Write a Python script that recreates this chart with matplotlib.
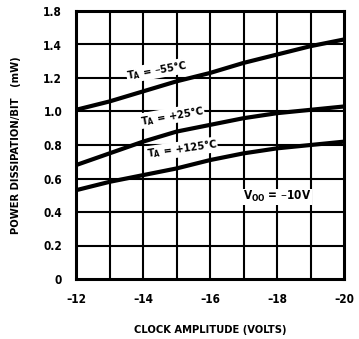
import matplotlib.pyplot as plt

# clock amplitude (volts) and power dissipation per bit (mW)
clock = [-12, -13, -14, -15, -16, -17, -18, -19, -20]
p_m55 = [1.01, 1.06, 1.12, 1.18, 1.23, 1.29, 1.34, 1.39, 1.43]
p_p25 = [0.68, 0.75, 0.82, 0.88, 0.92, 0.96, 0.99, 1.01, 1.03]
p_p125 = [0.53, 0.58, 0.62, 0.66, 0.71, 0.75, 0.78, 0.80, 0.82]

xticks = [-12, -14, -16, -18, -20]
xtick_labels = ['\u201312', '\u201314', '\u201316', '\u201318', '\u201320']
yticks = [0, 0.2, 0.4, 0.6, 0.8, 1.0, 1.2, 1.4, 1.6]
ytick_labels = ['0', '0.2', '0.4', '0.6', '0.8', '1.0', '1.2', '1.4', '1.8']

font = dict(family='DejaVu Sans', fontweight='bold', fontstretch='condensed')

fig = plt.figure(figsize=(3.59, 3.39), dpi=100)
ax = fig.add_axes([76/359, 60/339, 268/359, 268/339])

ax.set_xlim(-12, -20)
ax.set_ylim(0, 1.6)

# grid every volt and every 0.2 mW
for x in range(-13, -20, -1):
    ax.axvline(x, color='black', lw=1.5, zorder=1)
for y in yticks[1:-1]:
    ax.axhline(y, color='black', lw=1.5, zorder=1)

for s in ax.spines.values():
    s.set_linewidth(2.2)

ax.plot(clock, p_m55, color='black', lw=3.0, solid_capstyle='butt', zorder=3)
ax.plot(clock, p_p25, color='black', lw=3.0, solid_capstyle='butt', zorder=3)
ax.plot(clock, p_p125, color='black', lw=3.0, solid_capstyle='butt', zorder=3)

ax.set_xticks(xticks)
ax.set_xticklabels(xtick_labels, fontsize=8.5, **font)
ax.set_yticks(yticks)
ax.set_yticklabels(ytick_labels, fontsize=8.5, **font)
ax.tick_params(length=0, pad=10)

ax.set_xlabel('CLOCK AMPLITUDE (VOLTS)', fontsize=8, labelpad=14, **font)
ax.set_ylabel('POWER DISSIPATION/BIT   (mW)', fontsize=8, labelpad=16, **font)

bbox = dict(facecolor='white', edgecolor='none', pad=0.3)
ax.text(-14.42, 1.245, r'T$_\mathregular{A}$ = ' + '\u201355\u00b0C',
        fontsize=8, rotation=10, ha='center', va='center', bbox=bbox, zorder=4, **font)
ax.text(-14.87, 0.975, r'T$_\mathregular{A}$ = +25' + '\u00b0C',
        fontsize=8, rotation=10, ha='center', va='center', bbox=bbox, zorder=4, **font)
ax.text(-15.16, 0.775, r'T$_\mathregular{A}$ = +125' + '\u00b0C',
        fontsize=8, rotation=8, ha='center', va='center', bbox=bbox, zorder=4, **font)
ax.text(-18.0, 0.49, r'V$_\mathregular{OO}$ = ' + '\u201310V',
        fontsize=8.5, ha='center', va='center', bbox=bbox, zorder=4, **font)

fig.savefig('out.png', dpi=100)
